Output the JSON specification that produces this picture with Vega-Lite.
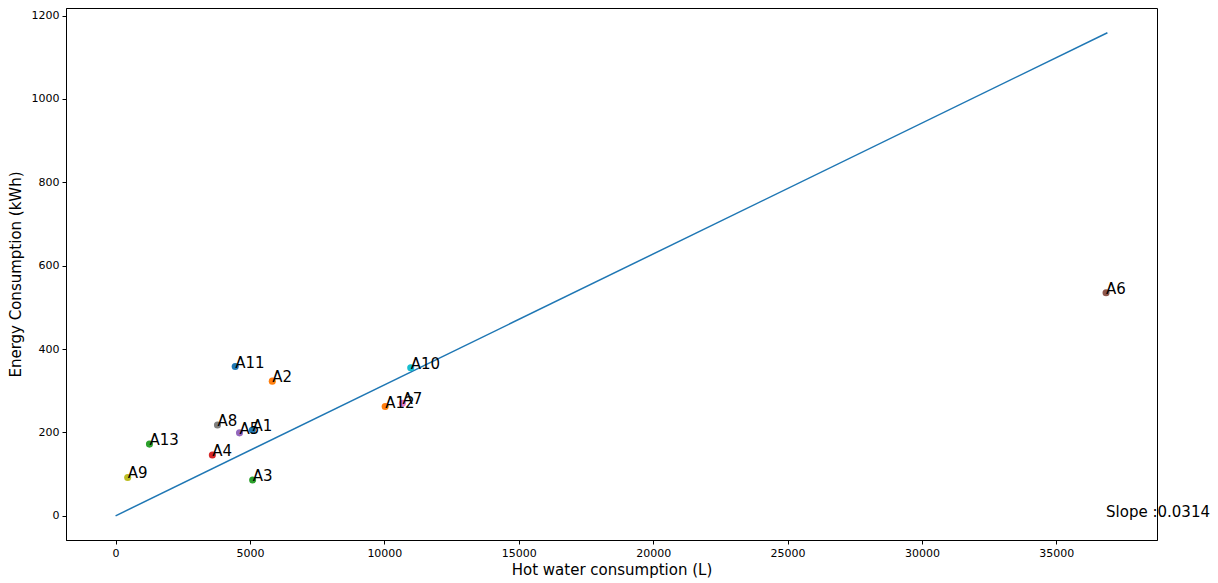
{
  "$schema": "https://vega.github.io/schema/vega-lite/v6.json",
  "autosize": "none",
  "width": 1091,
  "height": 532,
  "padding": {"left": 66, "top": 8, "right": 61, "bottom": 43},
  "background": "white",
  "config": {
    "font": "DejaVu Sans",
    "view": {"stroke": "#000000", "strokeWidth": 1},
    "axis": {
      "grid": false,
      "domainColor": "#000000",
      "tickColor": "#000000",
      "tickSize": 4,
      "labelPadding": 3,
      "labelFont": "DejaVu Sans",
      "labelFontSize": 11,
      "labelColor": "#000000",
      "titleFont": "DejaVu Sans",
      "titleFontSize": 15,
      "titleFontWeight": "normal",
      "titleColor": "#000000"
    }
  },
  "datasets": {
    "points": [
      {"name": "A1", "x": 5090, "y": 206},
      {"name": "A2", "x": 5830, "y": 323},
      {"name": "A3", "x": 5100, "y": 86},
      {"name": "A4", "x": 3600, "y": 146},
      {"name": "A5", "x": 4610, "y": 199},
      {"name": "A6", "x": 36850, "y": 535},
      {"name": "A7", "x": 10670, "y": 270},
      {"name": "A8", "x": 3790, "y": 218},
      {"name": "A9", "x": 450, "y": 92},
      {"name": "A10", "x": 10980, "y": 355},
      {"name": "A11", "x": 4450, "y": 358},
      {"name": "A12", "x": 10030, "y": 262},
      {"name": "A13", "x": 1260, "y": 172}
    ],
    "fit": [
      {"x": 0, "y": 0},
      {"x": 36900, "y": 1158.7}
    ],
    "slope": [
      {"x": 36850, "y": 0, "label": "Slope :0.0314"}
    ]
  },
  "layer": [
    {
      "data": {"name": "fit"},
      "mark": {"type": "line", "color": "#1f77b4", "strokeWidth": 1.5},
      "encoding": {
        "x": {
          "field": "x", "type": "quantitative",
          "scale": {"domain": [-1845, 38745], "nice": false, "zero": false},
          "axis": {"values": [0, 5000, 10000, 15000, 20000, 25000, 30000, 35000], "format": "d", "title": "Hot water consumption (L)", "titlePadding": 4}
        },
        "y": {
          "field": "y", "type": "quantitative",
          "scale": {"domain": [-58, 1218], "nice": false, "zero": false},
          "axis": {"values": [0, 200, 400, 600, 800, 1000, 1200], "format": "d", "title": "Energy Consumption (kWh)", "titlePadding": 8}
        }
      }
    },
    {
      "data": {"name": "points"},
      "mark": {"type": "circle", "size": 50, "opacity": 1},
      "encoding": {
        "x": {"field": "x", "type": "quantitative"},
        "y": {"field": "y", "type": "quantitative"},
        "color": {
          "field": "name", "type": "nominal",
          "scale": {
            "domain": ["A1", "A2", "A3", "A4", "A5", "A6", "A7", "A8", "A9", "A10", "A11", "A12", "A13"],
            "range": ["#1f77b4", "#ff7f0e", "#2ca02c", "#d62728", "#9467bd", "#8c564b", "#e377c2", "#7f7f7f", "#bcbd22", "#17becf", "#1f77b4", "#ff7f0e", "#2ca02c"]
          },
          "legend": null
        }
      }
    },
    {
      "data": {"name": "points"},
      "mark": {"type": "text", "align": "left", "baseline": "alphabetic", "fontSize": 15, "color": "#000000", "dy": 1},
      "encoding": {
        "x": {"field": "x", "type": "quantitative"},
        "y": {"field": "y", "type": "quantitative"},
        "text": {"field": "name"}
      }
    },
    {
      "data": {"name": "slope"},
      "mark": {"type": "text", "align": "left", "baseline": "alphabetic", "fontSize": 15, "color": "#000000", "dy": 1},
      "encoding": {
        "x": {"field": "x", "type": "quantitative"},
        "y": {"field": "y", "type": "quantitative"},
        "text": {"field": "label"}
      }
    }
  ]
}
